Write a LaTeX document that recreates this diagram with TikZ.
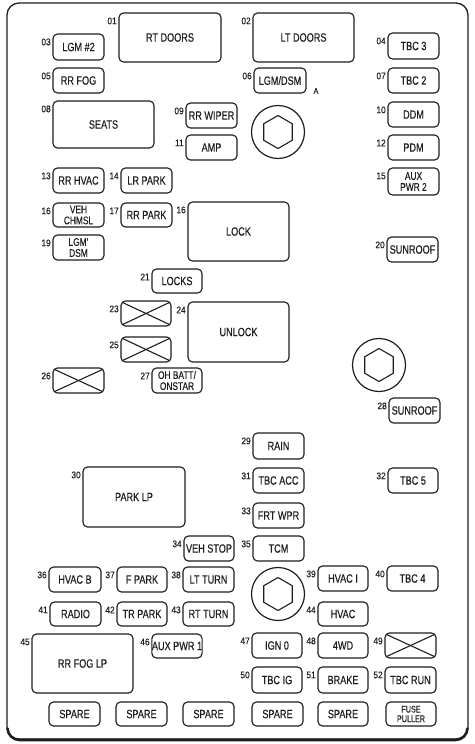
\documentclass[tikz,border=0pt]{standalone}
\usepackage{fontspec}
\setmainfont{Liberation Sans}[FakeStretch=0.76,FakeBold=0.35]
\newfontfamily\numfont{Liberation Sans}[FakeStretch=0.88,FakeBold=0.2]
\usetikzlibrary{calc}
\definecolor{ink}{HTML}{1E1E1E}
\tikzset{
  fuse/.style={draw=ink, line width=1.15pt, rounded corners=4.5pt, inner sep=0pt,
    font=\fontsize{12}{12}\selectfont, text=ink, align=center},
  twol/.style={font=\fontsize{11}{11}\selectfont},
  tiny/.style={font=\fontsize{9.5}{9.5}\selectfont},
  num/.style={font=\numfont\fontsize{9.5}{9.5}\selectfont, text=ink, inner sep=0pt, anchor=east},
  xline/.style={draw=ink, line width=1.1pt},
  bolt/.style={circle, draw=ink, line width=1.2pt, minimum size=53pt, inner sep=0pt},
  hexl/.style={draw=ink, line width=1.1pt, line join=round},
  frame/.style={draw=ink, line width=1.3pt, rounded corners=12pt}
}
% [opts]{name}{x1}{y1}{x2}{y2}{text}{number}
\newcommand\fz[8][]{%
  \node[fuse, #1, minimum width={(#5-#3)*1pt}, minimum height={(#6-#4)*1pt}] (#2) at ({(#3+#5)/2},{(#4+#6)/2}) {#7};
  \node[num] (#2n) at ([xshift=-1.5pt,yshift=-8.5pt]#2.north west) {#8};
}
\newcommand\fs[7][]{%
  \node[fuse, #1, minimum width={(#5-#3)*1pt}, minimum height={(#6-#4)*1pt}] (#2) at ({(#3+#5)/2},{(#4+#6)/2}) {#7};
}
\newcommand\crossit[1]{%
  \draw[xline] ([shift={(2pt,-2pt)}]#1.north west) -- ([shift={(-2pt,2pt)}]#1.south east);
  \draw[xline] ([shift={(2pt,2pt)}]#1.south west) -- ([shift={(-2pt,-2pt)}]#1.north east);
}
\newcommand\hexbolt[3]{%
  \node[bolt] (#1) at (#2,#3) {};
  \draw[hexl] ($(#1.center)+(90:16.5)$) -- ($(#1.center)+(150:16.5)$) -- ($(#1.center)+(210:16.5)$)
    -- ($(#1.center)+(270:16.5)$) -- ($(#1.center)+(330:16.5)$) -- ($(#1.center)+(30:16.5)$) -- cycle;
}
\begin{document}
\begin{tikzpicture}[x=1pt,y=-1pt]
\useasboundingbox (0,0) rectangle (474,744);
\fill[white] (0,0) rectangle (474,744);
% frame
\draw[frame] (7,3) rectangle (468,739);
\draw[draw=ink, line width=2.6pt, rounded corners=12pt] (7.5,728) -- (7.5,740) -- (467.5,740) -- (467.5,728);

\fz{f01}{119}{13}{221}{62}{RT DOORS}{01}
\fz{f02}{253}{13}{354}{62}{LT DOORS}{02}
\fz{f03}{53}{34}{104}{60}{LGM \#2}{03}
\fz{f04}{388}{33}{439}{59}{TBC 3}{04}
\fz{f05}{53}{68}{104}{93}{RR FOG}{05}
\fz{f06}{254}{68}{306}{93}{LGM/DSM}{06}
\node[font=\numfont\fontsize{8.5}{8.5}\selectfont, text=ink, inner sep=0pt] (lblA) at (316,91) {A};
\fz{f07}{388}{68}{439}{93}{TBC 2}{07}
\fz{f08}{53}{101}{154}{148}{SEATS}{08}
\fz{f09}{186}{103}{237}{128}{RR WIPER}{09}
\hexbolt{h1}{278}{132}
\fz{f10}{388}{102}{439}{127}{DDM}{10}
\fz{f11}{186}{135}{237}{160}{AMP}{11}
\fz{f12}{388}{135}{439}{160}{PDM}{12}
\fz{f13}{53}{168}{104}{193}{RR HVAC}{13}
\fz{f14}{121}{168}{172}{193}{LR PARK}{14}
\fz[twol]{f15}{388}{168}{439}{195}{AUX\\PWR 2}{15}
\fz[twol]{f16}{53}{203}{104}{227}{VEH\\CHMSL}{16}
\fz{f17}{121}{203}{172}{227}{RR PARK}{17}
\fz{f18}{188}{202}{289}{261}{LOCK}{16}
\fz[twol]{f19}{53}{235}{104}{260}{LGM'\\DSM}{19}
\fz{f20}{387}{237}{438}{262}{SUNROOF}{20}
\fz{f21}{152}{269}{202}{293}{LOCKS}{21}
\fz{f23}{121}{301}{171}{326}{}{23}
\crossit{f23}
\fz{f24}{188}{302}{289}{362}{UNLOCK}{24}
\fz{f25}{121}{337}{171}{362}{}{25}
\crossit{f25}
\fz{f26}{53}{368}{104}{393}{}{26}
\crossit{f26}
\fz[twol]{f27}{152}{368}{202}{393}{OH BATT/\\ONSTAR}{27}
\hexbolt{h2}{379}{365}
\fz{f28}{389}{398}{440}{423}{SUNROOF}{28}
\fz{f29}{253}{433}{304}{459}{RAIN}{29}
\fz{f30}{83}{467}{185}{527}{PARK LP}{30}
\fz{f31}{253}{468}{304}{493}{TBC ACC}{31}
\fz{f32}{388}{468}{438}{493}{TBC 5}{32}
\fz{f33}{253}{503}{304}{528}{FRT WPR}{33}
\fz{f34}{184}{536}{234}{561}{VEH STOP}{34}
\fz{f35}{253}{536}{304}{561}{TCM}{35}
\fz{f36}{49}{567}{101}{592}{HVAC B}{36}
\fz{f37}{117}{567}{167}{592}{F PARK}{37}
\fz{f38}{183}{567}{234}{592}{LT TURN}{38}
\hexbolt{h3}{278}{594}
\fz{f39}{318}{566}{368}{591}{HVAC I}{39}
\fz{f40}{387}{566}{438}{591}{TBC 4}{40}
\fz{f41}{50}{602}{101}{626}{RADIO}{41}
\fz{f42}{117}{602}{167}{626}{TR PARK}{42}
\fz{f43}{183}{602}{234}{626}{RT TURN}{43}
\fz{f44}{318}{602}{368}{626}{HVAC}{44}
\fz{f45}{32}{634}{133}{693}{RR FOG LP}{45}
\fz{f46}{152}{634}{202}{658}{AUX PWR 1}{46}
\fz{f47}{252}{633}{302}{658}{IGN 0}{47}
\fz{f48}{318}{633}{368}{658}{4WD}{48}
\fz{f49}{385}{633}{436}{658}{}{49}
\crossit{f49}
\fz{f50}{252}{667}{302}{693}{TBC IG}{50}
\fz{f51}{318}{667}{368}{693}{BRAKE}{51}
\fz{f52}{385}{667}{436}{693}{TBC RUN}{52}
\fs{s1}{49}{702}{100}{726}{SPARE}
\fs{s2}{116}{702}{167}{726}{SPARE}
\fs{s3}{183}{702}{234}{726}{SPARE}
\fs{s4}{252}{702}{303}{726}{SPARE}
\fs{s5}{318}{702}{368}{726}{SPARE}
\fs[twol,tiny]{s6}{386}{702}{436}{726}{FUSE\\PULLER}
\end{tikzpicture}
\end{document}
